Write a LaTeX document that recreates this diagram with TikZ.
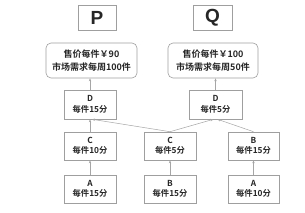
\documentclass[tikz,border=0pt]{standalone}
\usepackage{fontspec}
\newfontfamily\cjk[BoldFont={* Bold}]{Noto Sans CJK SC}
\setsansfont{Liberation Sans}
\usetikzlibrary{arrows.meta}
\tikzset{
  box/.style={draw=gray!75, line width=0.6pt, fill=white, inner sep=0pt, align=center, font=\cjk\bfseries\fontsize{8.3}{10.5}\selectfont, text=black!85},
  bigbox/.style={box, font=\sffamily\bfseries\fontsize{19}{19}\selectfont},
  pricebox/.style={box, rounded corners=5pt, font=\cjk\bfseries\fontsize{9}{13}\selectfont},
  conn/.style={draw=gray!70, line width=0.5pt, -{Stealth[length=3pt,width=2.4pt]}}
}
\begin{document}
\begin{tikzpicture}[x=1pt,y=-1pt]
\useasboundingbox[fill=white] (0,0) rectangle (305,213);
\node[bigbox, minimum width=38pt, minimum height=25pt] (P) at (97,17.5) {P};
\node[bigbox, minimum width=39pt, minimum height=25pt] (Q) at (212.5,17.5) {Q};
\node[pricebox, minimum width=91pt, minimum height=35pt] (p1) at (91.5,60.5) {售价每件￥90\\市场需求每周100件};
\node[pricebox, minimum width=90pt, minimum height=35pt] (p2) at (213,60.5) {售价每件￥100\\市场需求每周50件};
\node[box, minimum width=52pt, minimum height=29pt] (D1) at (90,104.5) {D\\每件15分};
\node[box, minimum width=53pt, minimum height=29pt] (D2) at (215.5,104.5) {D\\每件5分};
\node[box, minimum width=52pt, minimum height=28pt] (C1) at (90,146) {C\\每件10分};
\node[box, minimum width=52pt, minimum height=28pt] (C2) at (170,146) {C\\每件5分};
\node[box, minimum width=51pt, minimum height=28pt] (B2) at (253.5,146) {B\\每件15分};
\node[box, minimum width=52pt, minimum height=28pt] (A1) at (90,189) {A\\每件15分};
\node[box, minimum width=52pt, minimum height=28pt] (B1) at (170,189) {B\\每件15分};
\node[box, minimum width=51pt, minimum height=28pt] (A2) at (253.5,189) {A\\每件10分};
\draw[conn] (D1.north) -- (p1.south -| D1.north);
\draw[conn] (D2.north) -- (p2.south -| D2.north);
\draw[conn] (C1.north) -- (D1.south);
\draw[conn] (C2.north) -- ([xshift=2pt]D1.south);
\draw[conn] (C2.north) -- ([xshift=-2pt]D2.south);
\draw[conn] (B2.north) -- ([xshift=2pt]D2.south);
\draw[conn] (A1.north) -- (C1.south);
\draw[conn] (B1.north) -- (C2.south);
\draw[conn] (A2.north) -- (B2.south);
\end{tikzpicture}
\end{document}
